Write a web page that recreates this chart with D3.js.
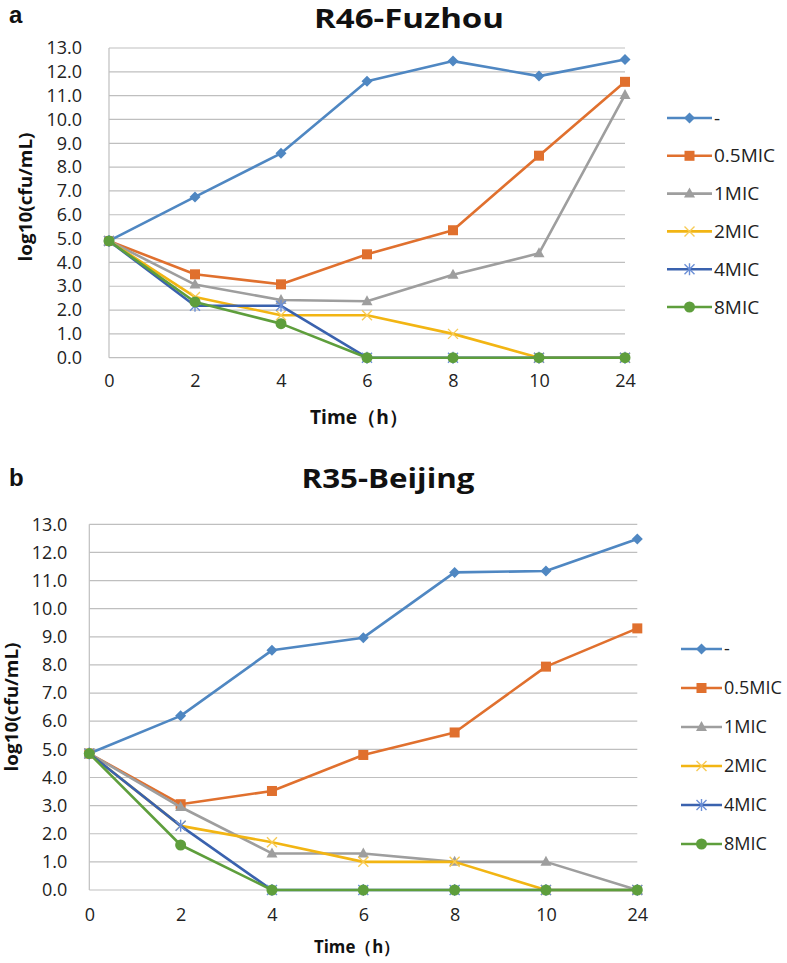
<!DOCTYPE html>
<html><head><meta charset="utf-8">
<script src="https://cdn.jsdelivr.net/npm/d3@7"></script>
<style>body{margin:0;background:#fff}svg{display:block}</style>
</head><body>
<svg id="c" width="787" height="963"></svg>
<script>
const timeLabels = ["0","2","4","6","8","10","24"];
const seriesNames = ["-","0.5MIC","1MIC","2MIC","4MIC","8MIC"];
const yTicks = [0,1,2,3,4,5,6,7,8,9,10,11,12,13];

// Panel a: R46-Fuzhou
const fuzhouCtrl  = [4.9, 6.75, 8.58, 11.6, 12.45, 11.82, 12.52];
const fuzhou05    = [4.9, 3.5, 3.08, 4.34, 5.35, 8.48, 11.58];
const fuzhou1     = [4.9, 3.07, 2.42, 2.37, 3.48, 4.38, 11.03];
const fuzhou2     = [4.9, 2.55, 1.78, 1.78, 1.0, 0, 0];
const fuzhou4     = [4.9, 2.18, 2.18, 0, 0, 0, 0];
const fuzhou8     = [4.9, 2.34, 1.43, 0, 0, 0, 0];

// Panel b: R35-Beijing
const beijingCtrl = [4.85, 6.19, 8.52, 8.97, 11.29, 11.34, 12.48];
const beijing05   = [4.85, 3.05, 3.52, 4.8, 5.6, 7.94, 9.3];
const beijing1    = [4.85, 2.95, 1.3, 1.3, 1.0, 1.0, 0];
const beijing2    = [4.85, 2.28, 1.7, 1.0, 1.0, 0, 0];
const beijing4    = [4.85, 2.28, 0, 0, 0, 0, 0];
const beijing8    = [4.85, 1.6, 0, 0, 0, 0, 0];

const colors = ["#4F87C2","#E0702E","#9E9E9E","#F2B513","#3A62AE","#5E9E3C"];
const markerColors = ["#4F87C2","#E0702E","#9E9E9E","#F7CB56","#6B8FD6","#5E9E3C"];
const markers = ["diamond","square","triangle","x","star","circle"];

const svg = d3.select("#c");
const FONT = "'Open Sans', 'Noto Sans', sans-serif";

function drawMarker(g, type, x, y, color) {
  if (type === "diamond") {
    g.append("path").attr("d", `M${x},${y-5.5}L${x+5.5},${y}L${x},${y+5.5}L${x-5.5},${y}Z`).attr("fill", color);
  } else if (type === "square") {
    g.append("rect").attr("x", x-5).attr("y", y-5).attr("width", 10).attr("height", 10).attr("fill", color);
  } else if (type === "triangle") {
    g.append("path").attr("d", `M${x},${y-6}L${x+5.5},${y+4}L${x-5.5},${y+4}Z`).attr("fill", color);
  } else if (type === "x") {
    g.append("path").attr("d", `M${x-5},${y-5}L${x+5},${y+5}M${x-5},${y+5}L${x+5},${y-5}`).attr("stroke", color).attr("stroke-width", 1.4).attr("fill","none");
  } else if (type === "star") {
    g.append("path").attr("d", `M${x-5},${y-5}L${x+5},${y+5}M${x-5},${y+5}L${x+5},${y-5}M${x},${y-6}L${x},${y+6}`).attr("stroke", color).attr("stroke-width", 1.4).attr("fill","none");
  } else if (type === "circle") {
    g.append("circle").attr("cx", x).attr("cy", y).attr("r", 5.5).attr("fill", color);
  }
}

function drawPanel(p) {
  const g = svg.append("g");
  const x = d3.scalePoint().domain(timeLabels).range([p.x0, p.x1]);
  const y = d3.scaleLinear().domain([0, 13]).range([p.yBot, p.yTop]);

  g.append("g").selectAll("line").data(yTicks).join("line")
    .attr("x1", p.x0).attr("x2", p.x1)
    .attr("y1", d => y(d)).attr("y2", d => y(d))
    .attr("stroke", "#BFBFBF").attr("stroke-width", 1.2);
  g.append("line").attr("x1", p.x0).attr("x2", p.x0).attr("y1", p.yTop).attr("y2", p.yBot)
    .attr("stroke", "#BFBFBF").attr("stroke-width", 1.2);

  const yAxis = d3.axisLeft(y).tickValues(yTicks).tickFormat(d3.format(".1f")).tickSize(0).tickPadding(p.yPad);
  const ya = g.append("g").attr("transform", `translate(${p.x0},0)`).call(yAxis);
  ya.select(".domain").remove();
  ya.selectAll("text").attr("font-family", FONT).attr("font-size", p.fs).attr("fill", "#222");

  const xAxis = d3.axisBottom(x).tickSize(0).tickPadding(p.xPad);
  const xa = g.append("g").attr("transform", `translate(0,${p.yBot})`).call(xAxis);
  xa.select(".domain").remove();
  xa.selectAll("text").attr("font-family", FONT).attr("font-size", p.fs).attr("fill", "#222");

  const line = d3.line().x((d, i) => x(timeLabels[i])).y(d => y(d));
  p.series.forEach((vals, si) => {
    const sg = g.append("g");
    sg.append("path").datum(vals).attr("d", line).attr("fill", "none")
      .attr("stroke", colors[si]).attr("stroke-width", 2.6).attr("stroke-linejoin", "round");
    vals.forEach((v, i) => drawMarker(sg, markers[si], x(timeLabels[i]), y(v), markerColors[si]));
  });

  seriesNames.forEach((name, si) => {
    const ly = p.legY + si * p.legStep;
    const lg = g.append("g");
    lg.append("line").attr("x1", p.legX).attr("x2", p.legX + p.legLen).attr("y1", ly).attr("y2", ly)
      .attr("stroke", colors[si]).attr("stroke-width", 2.6);
    drawMarker(lg, markers[si], p.legX + p.legLen / 2, ly, markerColors[si]);
    lg.append("text").attr("x", p.legX + p.legLen + 2).attr("y", ly).attr("dy", "0.35em")
      .attr("font-family", FONT).attr("font-size", p.legFs).attr("fill", "#222").text(name);
  });

  g.append("text").attr("x", p.titleX).attr("y", p.titleY).attr("text-anchor", "middle")
    .attr("font-family", FONT).attr("font-weight", "bold").attr("font-size", 26)
    .attr("textLength", p.titleLen).attr("lengthAdjust", "spacingAndGlyphs")
    .attr("fill", "#111").text(p.title);
  g.append("text").attr("x", p.letterX).attr("y", p.letterY)
    .attr("font-family", "'Liberation Sans', Arial, sans-serif").attr("font-weight", "bold").attr("font-size", 24).attr("fill", "#111").text(p.letter);
  g.append("text").attr("transform", `translate(${p.ytX},${p.ytY}) rotate(-90)`).attr("text-anchor", "middle").attr("dy", "0.35em")
    .attr("font-family", FONT).attr("font-weight", "bold").attr("font-size", 18)
    .attr("textLength", 129).attr("lengthAdjust", "spacingAndGlyphs")
    .attr("fill", "#111").text("log10(cfu/mL)");
  g.append("text").attr("x", p.xtX).attr("y", p.xtY).attr("text-anchor", "middle").attr("dy", "0.35em")
    .attr("font-family", FONT).attr("font-weight", "bold").attr("font-size", p.xtFs)
    .attr("textLength", p.xtLen).attr("lengthAdjust", "spacingAndGlyphs")
    .attr("fill", "#111").text("Time（h）");
}

drawPanel({
  x0: 109, x1: 625, yTop: 48, yBot: 357.7, fs: 18, legFs: 19, yPad: 27, xPad: 17,
  series: [fuzhouCtrl, fuzhou05, fuzhou1, fuzhou2, fuzhou4, fuzhou8],
  legX: 667, legLen: 45, legY: 118, legStep: 37.8,
  title: "R46-Fuzhou", titleX: 409, titleY: 28, titleLen: 190, letter: "a", letterX: 9, letterY: 23,
  ytX: 26, ytY: 197, xtX: 359, xtY: 417, xtLen: 98, xtFs: 19
});
drawPanel({
  x0: 89.3, x1: 637.3, yTop: 524.3, yBot: 890, fs: 18, legFs: 18, yPad: 22, xPad: 18,
  series: [beijingCtrl, beijing05, beijing1, beijing2, beijing4, beijing8],
  legX: 681, legLen: 41, legY: 649, legStep: 39,
  title: "R35-Beijing", titleX: 388, titleY: 488, titleLen: 173, letter: "b", letterX: 9, letterY: 486,
  ytX: 12, ytY: 707, xtX: 357, xtY: 947, xtLen: 86, xtFs: 17
});
</script>
</body></html>
